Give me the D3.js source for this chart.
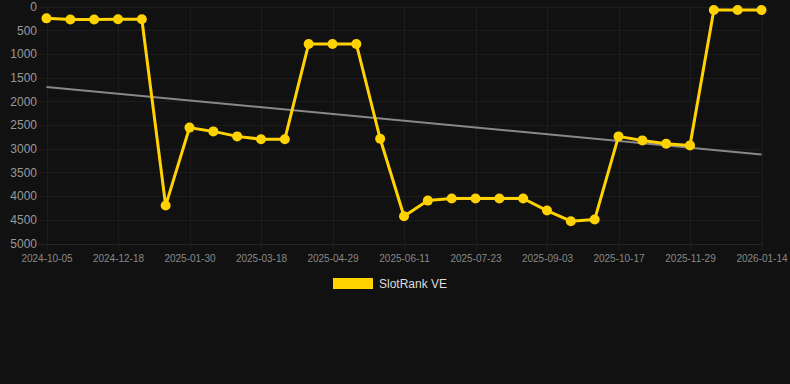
<!doctype html>
<html>
<head>
<meta charset="utf-8">
<script src="https://cdn.jsdelivr.net/npm/d3@7"></script>
<style>
  html, body { margin: 0; padding: 0; background: #111111; }
  svg { display: block; font-family: "Liberation Sans", Arial, sans-serif; }
</style>
</head>
<body>
<svg width="790" height="384"></svg>
<script>
// dates of each sample (category axis, every 3rd one labelled)
var dates = ["2024-10-05", "2024-10-29", "2024-11-22", "2024-12-18", "2024-12-30", "2025-01-13",
             "2025-01-30", "2025-02-14", "2025-03-02", "2025-03-18", "2025-04-01", "2025-04-15",
             "2025-04-29", "2025-05-13", "2025-05-27", "2025-06-11", "2025-06-25", "2025-07-09",
             "2025-07-23", "2025-08-06", "2025-08-20", "2025-09-03", "2025-09-17", "2025-10-01",
             "2025-10-17", "2025-10-31", "2025-11-14", "2025-11-29", "2025-12-14", "2025-12-29",
             "2026-01-14"];
var rank = [250, 275, 275, 270, 270, 4200, 2555, 2635, 2740, 2800, 2800, 790, 790, 790, 2790,
            4425, 4095, 4050, 4050, 4050, 4050, 4305, 4530, 4495, 2740, 2825, 2895, 2930, 75, 75, 75];
var trend = [1700, 3120];   // trend line value at first and last date
var yTicks = [0, 500, 1000, 1500, 2000, 2500, 3000, 3500, 4000, 4500, 5000];
var seriesName = "SlotRank VE";

var svg = d3.select("svg");
var yellow = "#ffd200";

var x = d3.scalePoint().domain(dates).range([46.5, 761.5]);
var y = d3.scaleLinear().domain([0, 5000]).range([6.5, 243.5]);

var tickDates = dates.filter((d, i) => i % 3 === 0);

// grid
var grid = svg.append("g");
grid.selectAll(".hg").data(yTicks).enter().append("line")
  .attr("x1", 38).attr("x2", 762)
  .attr("y1", d => Math.round(y(d)) + 0.5).attr("y2", d => Math.round(y(d)) + 0.5)
  .style("stroke", d => d === 5000 ? "#262626" : "#1c1c1c");
grid.selectAll(".vg").data(tickDates).enter().append("line")
  .attr("x1", d => Math.round(x(d)) + 0.5).attr("x2", d => Math.round(x(d)) + 0.5)
  .attr("y1", 6).attr("y2", 250)
  .style("stroke", "#1c1c1c");

// y axis labels
var yAxis = svg.append("g").attr("transform", "translate(37,0)")
  .call(d3.axisLeft(y).tickValues(yTicks).tickFormat(d3.format("d")).tickSize(0).tickPadding(0));
yAxis.select(".domain").remove();
yAxis.selectAll("text").style("fill", "#999").style("font-size", "12px")
  .style("font-family", "Liberation Sans, Arial, sans-serif");

// x axis labels
var xAxis = svg.append("g").attr("transform", "translate(0,255)")
  .call(d3.axisBottom(x).tickValues(tickDates).tickSize(0).tickPadding(0));
xAxis.select(".domain").remove();
xAxis.selectAll("text").style("fill", "#888").style("font-size", "10px")
  .style("font-family", "Liberation Sans, Arial, sans-serif");

// trend line
svg.append("line")
  .attr("x1", x(dates[0])).attr("y1", y(trend[0]))
  .attr("x2", x(dates[dates.length - 1])).attr("y2", y(trend[1]))
  .style("stroke", "#888").style("stroke-width", 2);

// series
var line = d3.line().x((d, i) => x(dates[i])).y(d => y(d));
svg.append("path").datum(rank)
  .attr("d", line)
  .style("fill", "none").style("stroke", yellow).style("stroke-width", 3)
  .style("stroke-linejoin", "round");
svg.selectAll(".pt").data(rank).enter().append("circle")
  .attr("cx", (d, i) => x(dates[i])).attr("cy", d => y(d)).attr("r", 5)
  .style("fill", yellow);

// legend
var lg = svg.append("g").attr("transform", "translate(333,278)");
lg.append("rect").attr("width", 40).attr("height", 11).style("fill", yellow);
lg.append("text").attr("x", 46).attr("y", 10).text(seriesName)
  .style("fill", "#ddd").style("font-size", "12px");
</script>
</body>
</html>
